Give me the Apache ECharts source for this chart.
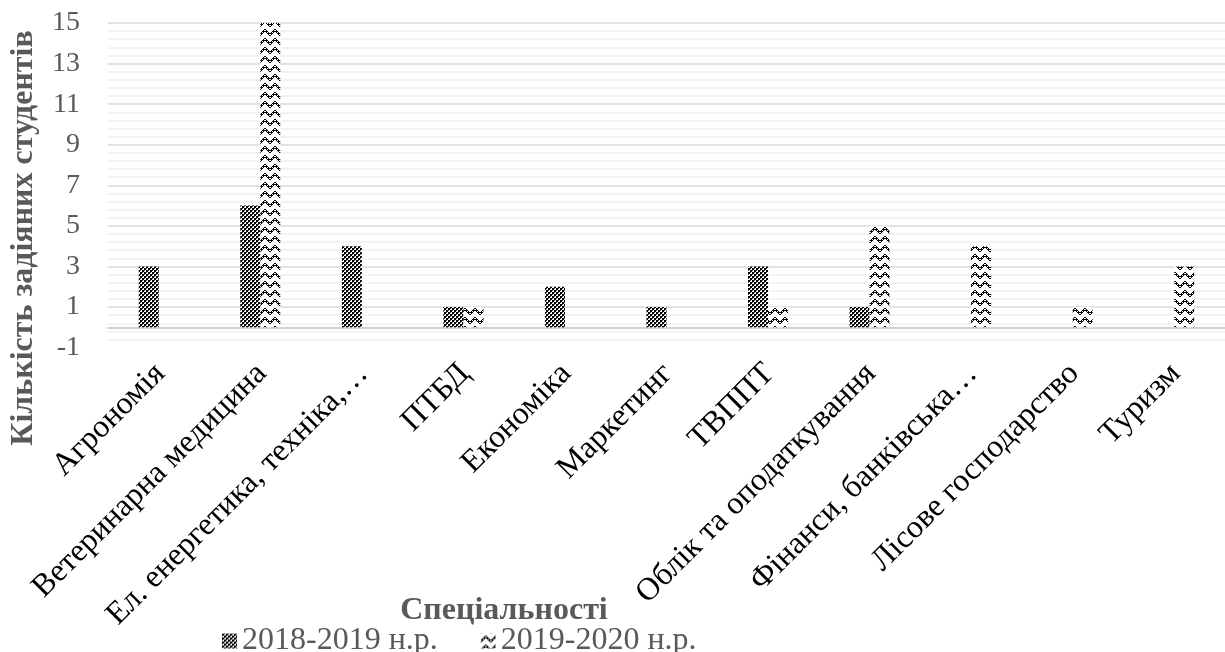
<!DOCTYPE html>
<html>
<head>
<meta charset="utf-8">
<script src="https://cdn.jsdelivr.net/npm/echarts@6/dist/echarts.min.js"></script>
<style>html,body{margin:0;padding:0;background:#fff}#c{width:1225px;height:652px}</style>
</head>
<body>
<div id="c"></div>
<script>
const categories = ['Агрономія', 'Ветеринарна медицина', 'Ел. енергетика, техніка,…', 'ПТБД', 'Економіка', 'Маркетинг', 'ТВППТ', 'Облік та оподаткування', 'Фінанси, банківська…', 'Лісове господарство', 'Туризм'];
const seriesNames = ['2018-2019 н.р.', '2019-2020 н.р.'];
const values2018 = [3, 6, 4, 1, 2, 1, 3, 1, 0, 0, 0];
const values2019 = [0, 15, 0, 1, 0, 0, 1, 5, 4, 1, 3];
const yMin = -1, yMax = 15, yStep = 2;
const yTitle = 'Кількість задіяних студентів';
const xTitle = 'Спеціальності';

function checker() {
  const c = document.createElement('canvas'); c.width = 4; c.height = 4;
  const g = c.getContext('2d');
  g.fillStyle = '#fff'; g.fillRect(0, 0, 4, 4);
  g.fillStyle = '#000';
  g.fillRect(0, 0, 2, 2); g.fillRect(2, 2, 2, 2);
  g.fillStyle = '#444';
  g.fillRect(2, 0, 1, 1); g.fillRect(0, 2, 1, 1);
  return c;
}
function zigzag() {
  const w = 10, h = 9;
  const c = document.createElement('canvas'); c.width = w; c.height = h;
  const g = c.getContext('2d');
  g.fillStyle = '#fff'; g.fillRect(0, 0, w, h);
  g.fillStyle = '#000';
  for (let i = 0; i < 5; i++) {
    const yl = 6 - i, yr = 2 + i;
    g.fillRect(i, yl, 1, 1);
    g.fillRect(5 + i, yr, 1, 1);
    g.fillRect(i, (yl + 2) % h, 1, 1);
    g.fillRect(5 + i, (yr + 2) % h, 1, 1);
    if (i % 2 === 1) {
      g.fillRect(i, (yl + 1) % h, 1, 1);
      g.fillRect(5 + i, (yr + 1) % h, 1, 1);
    }
  }
  return c;
}

const chart = echarts.init(document.getElementById('c'), null, {renderer: 'canvas'});
const font = '"Liberation Serif", "Times New Roman", serif';
chart.setOption({
  animation: false,
  backgroundColor: '#fff',
  grid: {left: 108, right: -5, top: 23, bottom: 304.4, containLabel: false},
  legend: {
    data: seriesNames,
    left: 217, top: 620,
    itemWidth: 15, itemHeight: 15, itemGap: 43,
    icon: 'rect',
    textStyle: {fontFamily: font, fontSize: 32, color: '#595959'}
  },
  xAxis: {
    type: 'category',
    data: categories,
    axisLine: {show: true, onZero: true, lineStyle: {color: '#d0d0d0', width: 2}},
    axisTick: {show: false},
    axisLabel: {
      interval: 0, rotate: 45, margin: 0,
      align: 'right', verticalAlign: 'top',
      padding: [0, 14, 0, 0],
      fontFamily: font, fontSize: 32, color: '#000'
    }
  },
  yAxis: {
    type: 'value',
    min: yMin, max: yMax, interval: yStep,
    axisLine: {show: false},
    axisTick: {show: false},
    axisLabel: {margin: 28, fontFamily: font, fontSize: 28, color: '#595959'},
    splitLine: {show: true, lineStyle: {color: ['rgba(0,0,0,0)', '#d9d9d9', '#d9d9d9', '#d9d9d9', '#d9d9d9', '#d9d9d9', '#d9d9d9', '#d9d9d9', '#d9d9d9'], width: 1.7}},
    minorTick: {show: false, splitNumber: 5},
    minorSplitLine: {show: true, lineStyle: {color: '#efefef', width: 1.5}}
  },
  series: [
    {name: seriesNames[0], type: 'bar', data: values2018, barWidth: 20, barGap: '0%',
     itemStyle: {color: {image: checker(), repeat: 'repeat'}}},
    {name: seriesNames[1], type: 'bar', data: values2019, barWidth: 20, barGap: '0%',
     itemStyle: {color: {image: zigzag(), repeat: 'repeat'}}}
  ],
  graphic: [
    {type: 'text', x: 24, y: 238, rotation: Math.PI / 2,
     style: {text: yTitle, x: 0, y: 0, textAlign: 'center', textVerticalAlign: 'middle',
              font: 'bold 32px ' + font, fill: '#595959'}},
    {type: 'text', x: 504, y: 611,
     style: {text: xTitle, x: 0, y: 0, textAlign: 'center', textVerticalAlign: 'middle',
              font: 'bold 32px ' + font, fill: '#595959'}}
  ]
});
</script>
</body>
</html>
